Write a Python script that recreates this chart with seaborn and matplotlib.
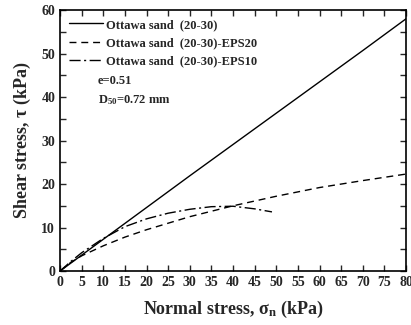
import matplotlib
matplotlib.use("Agg")
import matplotlib.pyplot as plt
import seaborn as sns
import pandas as pd
from matplotlib.ticker import MultipleLocator

sns.set_style("ticks")
plt.rcParams['font.family'] = ['Liberation Serif', 'DejaVu Serif']
plt.rcParams['font.weight'] = 'bold'
plt.rcParams['mathtext.fontset'] = 'custom'
plt.rcParams['mathtext.rm'] = 'Liberation Serif:bold'
plt.rcParams['mathtext.it'] = 'Liberation Serif:bold'
plt.rcParams['mathtext.bf'] = 'Liberation Serif:bold'

# data
sand_x = [0, 10, 20, 30, 40, 50, 60, 70, 80]
sand_y = [0, 7.3, 14.6, 21.9, 29.1, 36.3, 43.5, 50.7, 58.0]
eps20_x = [0, 2.5, 5, 10, 15, 20, 30, 40, 50, 60, 70, 80]
eps20_y = [0, 2.0, 3.5, 5.8, 7.8, 9.5, 12.5, 15.0, 17.2, 19.2, 20.8, 22.3]
eps10_x = [0, 2.5, 5, 10, 15, 20, 25, 30, 35, 40, 45, 49]
eps10_y = [0, 2.2, 4.2, 7.5, 10.2, 12.0, 13.3, 14.2, 14.8, 14.9, 14.3, 13.6]
labels = ["Ottawa sand  (20-30)", "Ottawa sand  (20-30)-EPS20", "Ottawa sand  (20-30)-EPS10"]

fig = plt.figure(figsize=(4.11, 3.25), dpi=100)
ax = fig.add_axes([0.146, 0.166, 0.842, 0.803])

styles = ['-', (0, (5, 3.5)), (0, (8, 2.5, 1.5, 2.5))]
for xs, ys, lab, ls in zip([sand_x, eps20_x, eps10_x], [sand_y, eps20_y, eps10_y], labels, styles):
    df = pd.DataFrame({"x": xs, "y": ys})
    sns.lineplot(data=df, x="x", y="y", ax=ax, color='black', lw=1.0,
                 linestyle=ls, label=lab, estimator=None, sort=False)

ax.set_xlim(0, 80)
ax.set_ylim(0, 60)
ax.xaxis.set_major_locator(MultipleLocator(5))
ax.yaxis.set_major_locator(MultipleLocator(10))
ax.yaxis.set_minor_locator(MultipleLocator(5))
ax.tick_params(which='both', direction='in', top=True, right=True, width=1.0, labelsize=10)
ax.tick_params(which='major', length=4)
ax.tick_params(which='minor', length=4)
for lab in ax.get_xticklabels() + ax.get_yticklabels():
    lab.set_fontweight('bold')
for s in ax.spines.values():
    s.set_linewidth(1.2)
    s.set_color('black')

ax.set_xlabel(r"Normal stress, $\sigma_{\rm n}$ (kPa)", fontsize=13, fontweight='bold', labelpad=7)
ax.set_ylabel(r"Shear stress, $\tau$ (kPa)", fontsize=13, fontweight='bold', labelpad=6)

leg = ax.legend(loc='upper left', frameon=False, handlelength=2.7,
                handletextpad=0.3, borderaxespad=0.3, labelspacing=0.5,
                prop={'weight': 'bold', 'size': 9})

ax.text(0.11, 0.715, "e=0.51", transform=ax.transAxes, fontsize=9, fontweight='bold')
ax.text(0.11, 0.645, r"D$_{\mathregular{50}}$=0.72 mm", transform=ax.transAxes, fontsize=9, fontweight='bold')

fig.savefig("out.png", dpi=100)
